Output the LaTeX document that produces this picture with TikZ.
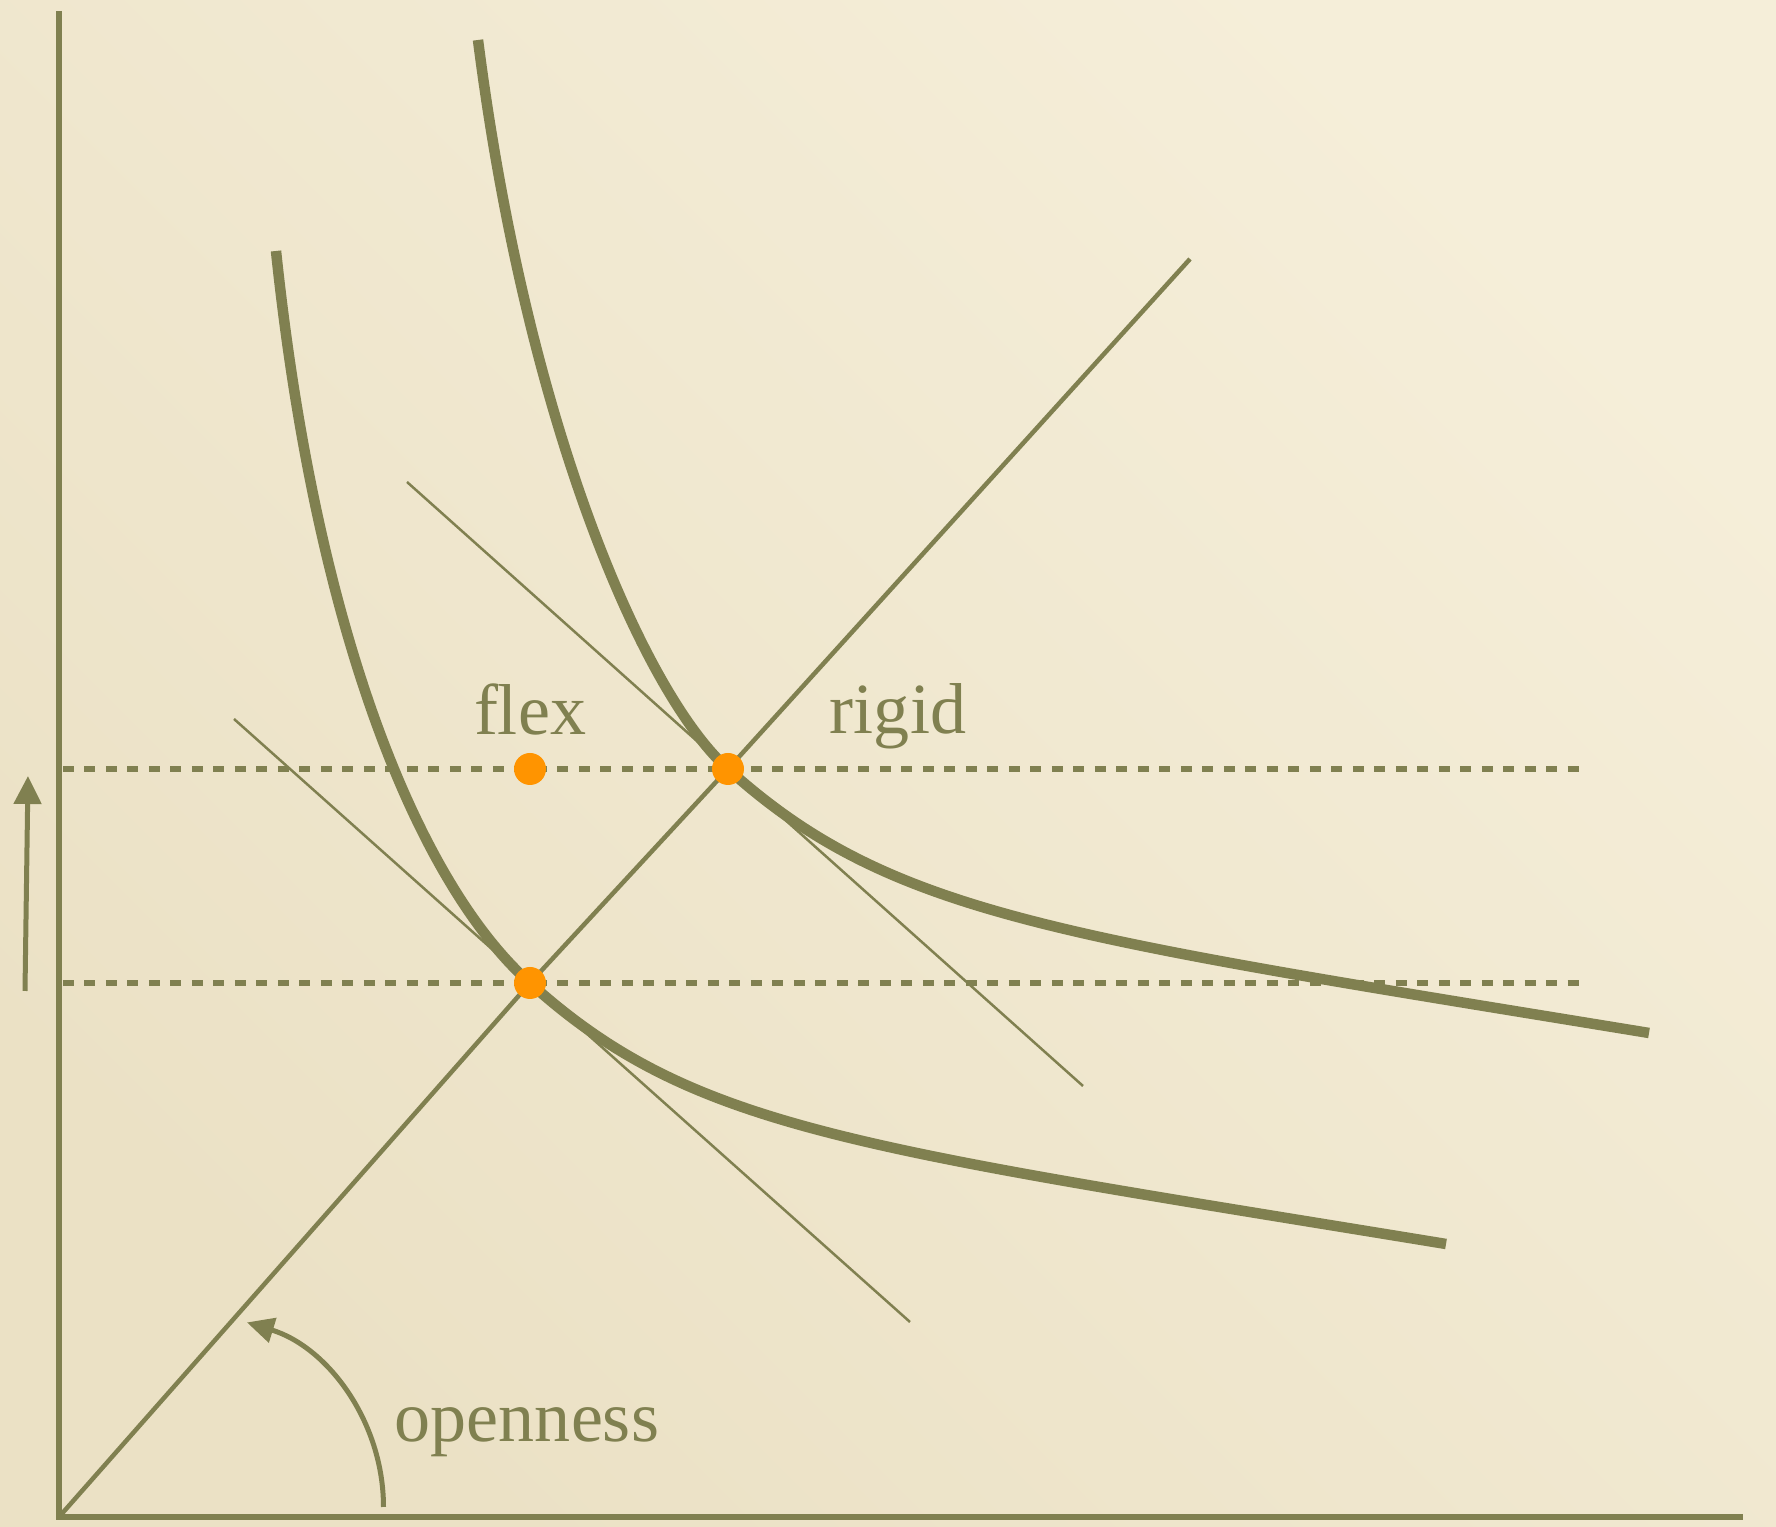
\documentclass[tikz,border=0pt]{standalone}
\usepackage{fontspec}
\setmainfont{Liberation Serif}
\usetikzlibrary{arrows.meta}

\definecolor{ink}{RGB}{128,128,80}
\definecolor{dotc}{RGB}{255,148,0}
\definecolor{paperlight}{RGB}{245,238,217}
\definecolor{paperdark}{RGB}{235,225,197}

\tikzset{
  curve/.style={ink, line width=0.21cm},
  guide/.style={ink, line width=0.11cm, dash pattern=on 0.22cm off 0.21cm},
  tangent/.style={ink, line width=0.05cm},
  dot/.style={circle, fill=dotc, inner sep=0pt, minimum size=0.64cm},
  lbl/.style={text=ink, font=\fontsize{41}{49}\selectfont, anchor=base},
}

\begin{document}
\begin{tikzpicture}[x=0.02cm,y=0.02cm]
\useasboundingbox (0,0) rectangle (1776,1527);
\shade[top color=paperlight, bottom color=paperdark, shading angle=-45] (0,0) rectangle (1776,1527);

% axes
\coordinate (ytop) at (59,1516);
\coordinate (o) at (59,10);
\coordinate (xend) at (1743,10);
\draw[ink, line width=0.12cm] (ytop) -- (o) -- (xend);

% the two levels
\draw[guide] (63,758) -- (1583,758);
\draw[guide] (63,544) -- (1583,544);

\coordinate (up) at (728,758);
\coordinate (lo) at (530,544);

% budget lines
\draw[tangent] (407,1045) -- (1083,441);
\draw[tangent] (234,808) -- (910,205);

% ray
\draw[ink, line width=0.09cm] (o) -- (lo) -- (up) -- (1190,1268);

% isoquants
\draw[curve] (478,1487) .. controls (528,1095) and (646,831) .. (up)
  .. controls (891,611) and (1057,591) .. (1649,494);
\draw[curve] (276,1276) .. controls (318,877) and (425,637) .. (lo)
  .. controls (693,397) and (854,380) .. (1446,283);

% points
\node[dot] (flexdot) at (530,758) {};
\node[dot] (rigiddot) at (up) {};
\node[dot] (basedot) at (lo) {};

\node[lbl] (flex) at (530,792) {flex};
\node[lbl] (rigid) at (898,793) {rigid};
\node[lbl] (open) at (527,85) {openness};

% arrows
\draw[ink, line width=0.1cm, -{Triangle[length=0.56cm,width=0.54cm]}] (25,536) -- (28,751);
\draw[ink, line width=0.1cm, -{Triangle[length=0.54cm,width=0.5cm]}] (383.5,20) arc (0:73:193);
\end{tikzpicture}
\end{document}
